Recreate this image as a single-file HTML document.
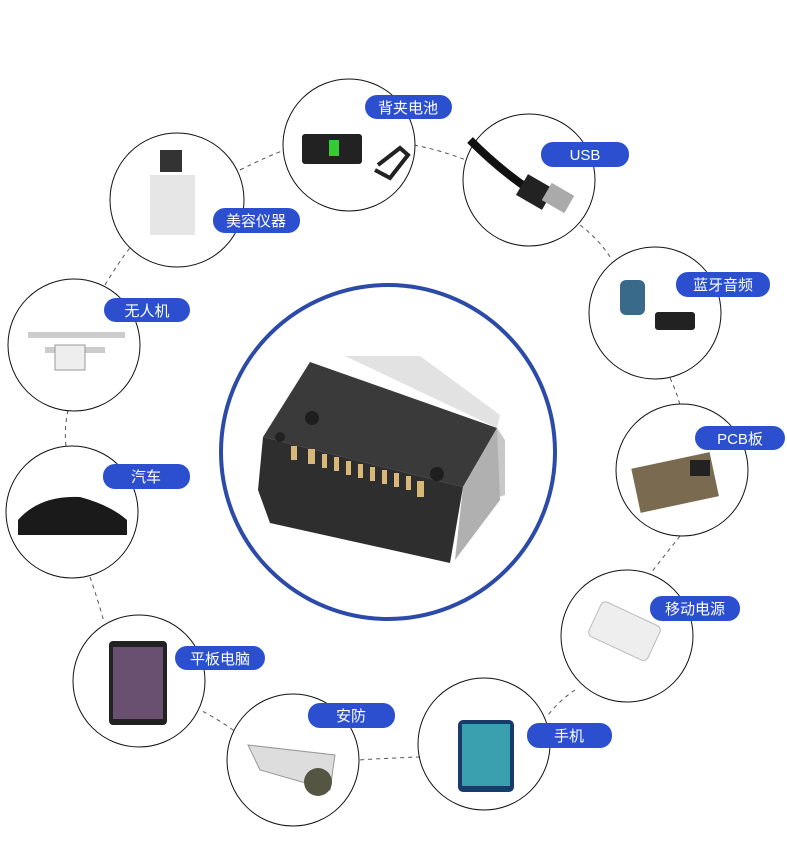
<!DOCTYPE html>
<html><head><meta charset="utf-8"><style>
body{margin:0;width:787px;height:853px;background:#fff;overflow:hidden;font-family:"Liberation Sans","Noto Sans CJK SC",sans-serif}
</style></head><body>
<svg width="787" height="853" viewBox="0 0 787 853" xmlns="http://www.w3.org/2000/svg">
<g stroke="#555" stroke-width="1" stroke-dasharray="4,4" fill="none">
<path d="M240,170 Q270,155 285,150"/>
<path d="M414,145 Q440,150 466,160"/>
<path d="M580,225 Q600,240 612,260"/>
<path d="M670,378 Q678,395 680,406"/>
<path d="M680,536 Q665,555 650,574"/>
<path d="M575,690 Q560,700 548,715"/>
<path d="M420,757 Q390,758 358,760"/>
<path d="M240,735 Q220,720 200,710"/>
<path d="M90,577 Q98,600 104,622"/>
<path d="M66,446 Q64,430 68,410"/>
<path d="M105,285 Q120,260 130,248"/>
</g>
<g fill="#fff" stroke="#111" stroke-width="1">
<circle cx="349" cy="145" r="66"/>
<circle cx="529" cy="180" r="66"/>
<circle cx="177" cy="200" r="67"/>
<circle cx="655" cy="313" r="66"/>
<circle cx="74" cy="345" r="66"/>
<circle cx="682" cy="470" r="66"/>
<circle cx="72" cy="512" r="66"/>
<circle cx="627" cy="636" r="66"/>
<circle cx="139" cy="681" r="66"/>
<circle cx="293" cy="760" r="66"/>
<circle cx="484" cy="744" r="66"/>
</g>
<circle cx="388" cy="452" r="167" fill="#fff" stroke="#2c4aa8" stroke-width="4"/>
<!-- connector -->
<polygon points="345,356 420,356 500,415 497,428" fill="#e2e2e2"/>
<polygon points="497,428 505,440 505,495 490,500 470,490" fill="#c8c8c8"/>
<polygon points="310,362 497,428 463,487 263,437" fill="#3a3a3a"/>
<polygon points="263,437 463,487 450,563 270,523 258,490" fill="#2e2e2e"/>
<polygon points="463,487 497,428 500,500 455,560" fill="#b0b0b0"/>
<circle cx="280" cy="437" r="5" fill="#222"/>
<circle cx="312" cy="418" r="7" fill="#1e1e1e"/>
<circle cx="437" cy="474" r="7" fill="#1e1e1e"/>
<g fill="#d8b878">
<rect x="291" y="446" width="6" height="14"/><rect x="308" y="449" width="7" height="15"/>
<rect x="322" y="454" width="5" height="14"/><rect x="334" y="457" width="5" height="14"/>
<rect x="346" y="461" width="5" height="14"/><rect x="358" y="464" width="5" height="14"/>
<rect x="370" y="467" width="5" height="14"/><rect x="382" y="470" width="5" height="14"/>
<rect x="394" y="473" width="5" height="14"/><rect x="406" y="476" width="5" height="14"/>
<rect x="417" y="481" width="7" height="16"/>
</g>
<!-- icons -->
<rect x="302" y="134" width="60" height="30" rx="3" fill="#222"/><rect x="329" y="140" width="10" height="16" fill="#3c3"/>
<path d="M378,165 L400,148 L408,155 L390,178 L375,170" fill="none" stroke="#222" stroke-width="4"/>
<path d="M470,140 Q500,170 530,190" stroke="#111" stroke-width="8" fill="none"/>
<rect x="520" y="180" width="30" height="24" fill="#222" transform="rotate(30 535 192)"/>
<rect x="545" y="188" width="26" height="20" fill="#aaa" transform="rotate(30 558 198)"/>
<rect x="150" y="175" width="45" height="60" fill="#e6e6e6"/><rect x="160" y="150" width="22" height="22" fill="#333"/>
<rect x="620" y="280" width="25" height="35" rx="6" fill="#3a6a8a"/><rect x="655" y="312" width="40" height="18" rx="3" fill="#222"/>
<path d="M28,335 L125,335 M45,350 L105,350" stroke="#ccc" stroke-width="6"/><rect x="55" y="345" width="30" height="25" fill="#eee" stroke="#999"/>
<path d="M18,520 Q40,495 80,497 Q110,505 127,520 L127,535 L18,535Z" fill="#1a1a1a"/>
<rect x="635" y="460" width="80" height="45" fill="#7a6a50" transform="rotate(-12 675 482)"/>
<rect x="690" y="460" width="20" height="16" fill="#222"/>
<rect x="592" y="612" width="65" height="38" rx="5" fill="#eee" stroke="#bbb" transform="rotate(25 624 631)"/>
<rect x="109" y="641" width="58" height="84" rx="4" fill="#222"/><rect x="113" y="647" width="50" height="72" fill="#6a5070"/>
<path d="M248,745 L335,755 L330,790 L260,770Z" fill="#ddd" stroke="#999"/><circle cx="318" cy="782" r="14" fill="#554"/>
<rect x="458" y="720" width="56" height="72" rx="5" fill="#1a3a6a"/><rect x="462" y="724" width="48" height="62" fill="#3aa0b0"/>
<!-- labels -->
<g fill="#2b4fcf">
<rect x="365" y="95" width="87" height="24" rx="12"/>
<rect x="541" y="142" width="88" height="25" rx="12"/>
<rect x="213" y="208" width="87" height="25" rx="12"/>
<rect x="676" y="272" width="94" height="25" rx="12"/>
<rect x="104" y="298" width="86" height="24" rx="12"/>
<rect x="695" y="426" width="90" height="24" rx="12"/>
<rect x="103" y="464" width="87" height="25" rx="12"/>
<rect x="650" y="596" width="90" height="25" rx="12"/>
<rect x="175" y="646" width="90" height="24" rx="12"/>
<rect x="308" y="703" width="87" height="25" rx="12"/>
<rect x="527" y="723" width="85" height="25" rx="12"/>
</g>
<g fill="#fff" font-size="15" text-anchor="middle" font-family="Liberation Sans,Noto Sans CJK SC,sans-serif">
<text x="408" y="113">背夹电池</text>
<text x="585" y="160">USB</text>
<text x="256" y="226">美容仪器</text>
<text x="723" y="290">蓝牙音频</text>
<text x="147" y="316">无人机</text>
<text x="740" y="444">PCB板</text>
<text x="146" y="482">汽车</text>
<text x="695" y="614">移动电源</text>
<text x="220" y="664">平板电脑</text>
<text x="351" y="721">安防</text>
<text x="569" y="741">手机</text>
</g>
</svg>
</body></html>
